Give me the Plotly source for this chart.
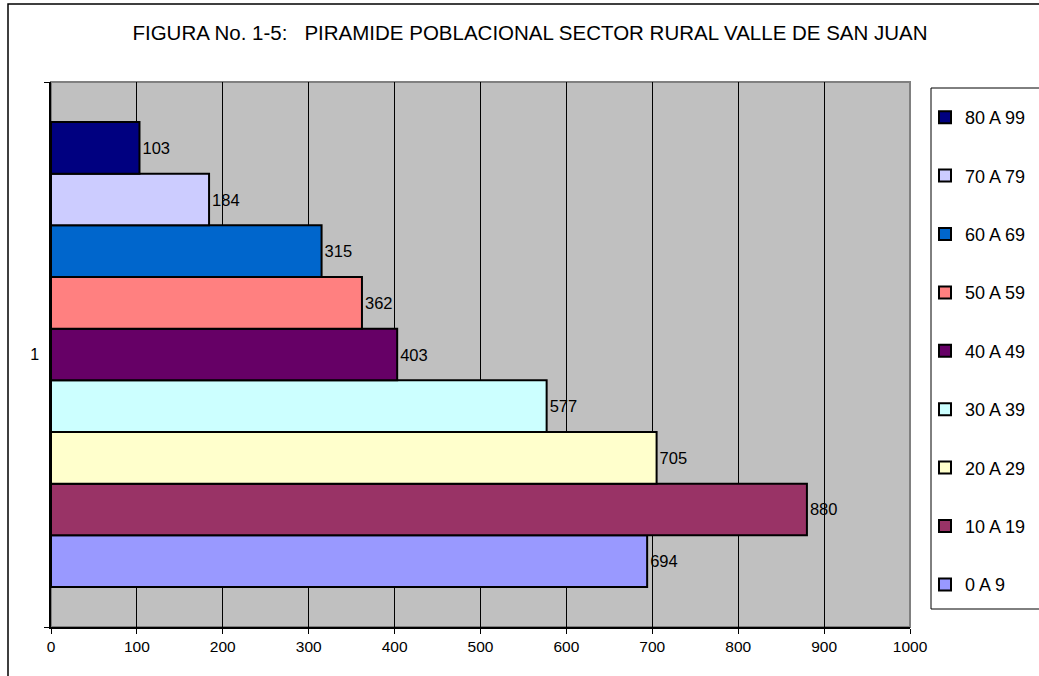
import plotly.graph_objects as go

categoria = ['1']
grupos = ['0 A 9', '10 A 19', '20 A 29', '30 A 39', '40 A 49',
          '50 A 59', '60 A 69', '70 A 79', '80 A 99']
poblacion = [694, 880, 705, 577, 403, 362, 315, 184, 103]
colores = ['#9999FF', '#993366', '#FFFFCC', '#CCFFFF', '#660066',
           '#FF8080', '#0066CC', '#CCCCFF', '#000080']

W, H = 1039, 676
ML, MR, MT, MB = 51, 129, 82, 49
PW, PH = W - ML - MR, H - MT - MB


def px_x(px):
    return (px - ML) / PW


def px_y(py):
    return (H - MB - py) / PH


fig = go.Figure()
for i, (g, v, c) in enumerate(zip(grupos, poblacion, colores)):
    fig.add_trace(go.Bar(
        name=g,
        y=categoria,
        x=[v],
        orientation='h',
        marker_color=c,
        marker_line=dict(color='black', width=2),
        text=[v],
        textposition='outside',
        textfont=dict(size=16.5, color='black'),
        cliponaxis=False,
        legendgroup=g,
        legendrank=len(grupos) - i,
        hoverinfo='x+name'
    ))

fig.update_layout(
    width=W, height=H,
    autosize=False,
    margin=dict(l=ML, r=MR, t=MT, b=MB, autoexpand=False),
    paper_bgcolor='white',
    plot_bgcolor='#C0C0C0',
    font=dict(family='Liberation Sans, Arial, sans-serif', color='black'),
    barmode='group',
    bargap=0.147,
    bargroupgap=0,
    title=dict(
        text='FIGURA No. 1-5:\u00a0\u00a0 PIRAMIDE POBLACIONAL SECTOR RURAL VALLE DE SAN JUAN',
        x=px_x(530), xref='paper', xanchor='center',
        y=1 - 33 / H, yanchor='middle',
        font=dict(size=20.5, color='black')
    ),
    showlegend=True,
    legend=dict(
        traceorder='grouped',
        tracegroupgap=32,
        x=px_x(925), xanchor='left',
        y=px_y(99), yanchor='top',
        bgcolor='rgba(0,0,0,0)',
        borderwidth=0,
        font=dict(size=18, color='black')
    ),
    xaxis=dict(
        range=[0, 1000],
        dtick=100,
        showgrid=True,
        gridcolor='black',
        gridwidth=1,
        zeroline=False,
        showline=True,
        linecolor='black',
        linewidth=1.5,
        ticks='outside',
        ticklen=5,
        tickcolor='black',
        tickfont=dict(size=15.5),
        fixedrange=True
    ),
    yaxis=dict(
        type='category',
        tickson='boundaries',
        ticks='outside',
        ticklen=5,
        tickcolor='black',
        ticklabelstandoff=7,
        showline=True,
        linecolor='black',
        linewidth=1.5,
        showgrid=False,
        tickfont=dict(size=16),
        fixedrange=True
    ),
    shapes=[
        # borde gris del area de trazado
        dict(type='rect', xref='paper', yref='paper', x0=0, x1=1, y0=0, y1=1,
             line=dict(color='#808080', width=2), layer='below'),
        # borde exterior del grafico
        dict(type='path', xref='paper', yref='paper',
             path='M {0},{1} L {0},{2} L {3},{2}'.format(
                 px_x(8), px_y(H + 5), px_y(4), px_x(W + 5)),
             line=dict(color='black', width=1.5)),
        # recuadro de la leyenda
        dict(type='rect', xref='paper', yref='paper',
             x0=px_x(931), x1=px_x(W + 5), y0=px_y(609), y1=px_y(88),
             line=dict(color='black', width=1))
    ]
)

fig.write_html("out.html", config={'displayModeBar': False},
               post_script="document.body.style.margin='0';")
